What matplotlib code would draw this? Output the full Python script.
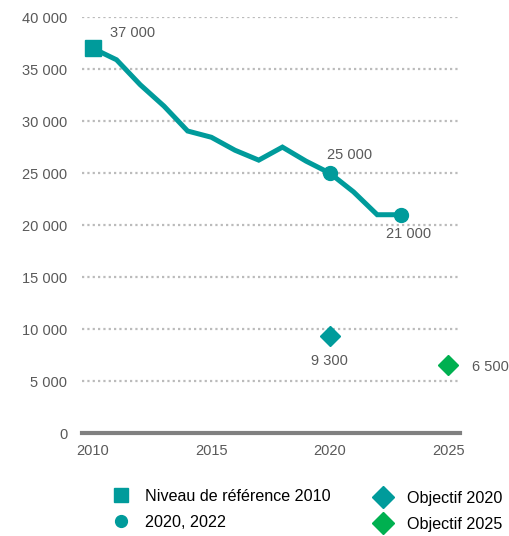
import matplotlib.pyplot as plt
from matplotlib.lines import Line2D

plt.rcParams['font.family'] = ['Liberation Sans', 'DejaVu Sans']

years = [2010, 2011, 2012, 2013, 2014, 2015, 2016, 2017, 2018, 2019,
         2020, 2021, 2022, 2023]
values = [37000, 35900, 33500, 31450, 29050, 28450, 27200, 26250, 27500, 26150,
          25000, 23200, 21000, 21000]

ref_year, ref_value = [2010], [37000]
obs_years, obs_values = [2020, 2023], [25000, 21000]
goal20_year, goal20_value = [2020], [9300]
goal25_year, goal25_value = [2025], [6500]

teal = '#009b9b'
green = '#00b050'
grey_txt = '#595959'


def fmt(v):
    return f"{v:,}".replace(",", " ")


fig = plt.figure(figsize=(5.09, 5.36), dpi=100)
ax = fig.add_axes([0.161, 0.192, 0.743, 0.776])

ax.plot(years, values, color=teal, lw=3.6, solid_joinstyle='miter', zorder=3)
ax.plot(ref_year, ref_value, 's', color=teal, ms=11, zorder=4)
ax.plot(obs_years, obs_values, 'o', color=teal, ms=10, zorder=4)
ax.plot(goal20_year, goal20_value, 'D', color=teal, ms=10, zorder=4)
ax.plot(goal25_year, goal25_value, 'D', color=green, ms=10, zorder=4)

lab = dict(fontsize=10.5, color=grey_txt)
ax.annotate(fmt(ref_value[0]), (ref_year[0], ref_value[0]), xytext=(12, 6),
            textcoords='offset points', ha='left', va='bottom', **lab)
ax.annotate(fmt(obs_values[0]), (obs_years[0], obs_values[0]), xytext=(-2, 8),
            textcoords='offset points', ha='left', va='bottom', **lab)
ax.annotate(fmt(obs_values[1]), (obs_years[1], obs_values[1]), xytext=(-11, -9),
            textcoords='offset points', ha='left', va='top', **lab)
ax.annotate(fmt(goal20_value[0]), (goal20_year[0], goal20_value[0]), xytext=(0, -13),
            textcoords='offset points', ha='center', va='top', **lab)
ax.annotate(fmt(goal25_value[0]), (goal25_year[0], goal25_value[0]), xytext=(17, -1),
            textcoords='offset points', ha='left', va='center',
            annotation_clip=False, **lab)

ax.set_xlim(2009.54, 2025.5)
ax.set_ylim(0, 40000)
ax.set_xticks([2010, 2015, 2020, 2025])
ax.set_yticks(range(0, 40001, 5000))
ax.set_yticklabels([fmt(v) for v in range(0, 40001, 5000)])
ax.tick_params(length=0, labelsize=10.5, labelcolor=grey_txt)
ax.tick_params(axis='y', pad=10.5)
ax.tick_params(axis='x', pad=8)

for s in ['top', 'right', 'left']:
    ax.spines[s].set_visible(False)
ax.spines['bottom'].set_color('#808080')
ax.spines['bottom'].set_linewidth(3)
ax.spines['bottom'].set_zorder(5)

ax.yaxis.grid(True, color='#bbbbbb', linestyle=(0, (1, 1.4)), lw=1.6)
ax.set_axisbelow(True)

h1 = [Line2D([], [], ls='', marker='s', color=teal, ms=10),
      Line2D([], [], ls='', marker='o', color=teal, ms=8.5)]
h2 = [Line2D([], [], ls='', marker='D', color=teal, ms=11),
      Line2D([], [], ls='', marker='D', color=green, ms=11)]
leg_kw = dict(frameon=False, fontsize=11.6, handlelength=1.0, handletextpad=1.0,
              labelspacing=0.68, borderpad=0, borderaxespad=0, loc='upper left')
fig.legend(h1, ['Niveau de référence 2010', '2020, 2022'],
           bbox_to_anchor=(113 / 509, 1 - 489 / 536), **leg_kw)
fig.legend(h2, ['Objectif 2020', 'Objectif 2025'],
           bbox_to_anchor=(375 / 509, 1 - 491 / 536), **leg_kw)

fig.savefig('out.png', dpi=100)
